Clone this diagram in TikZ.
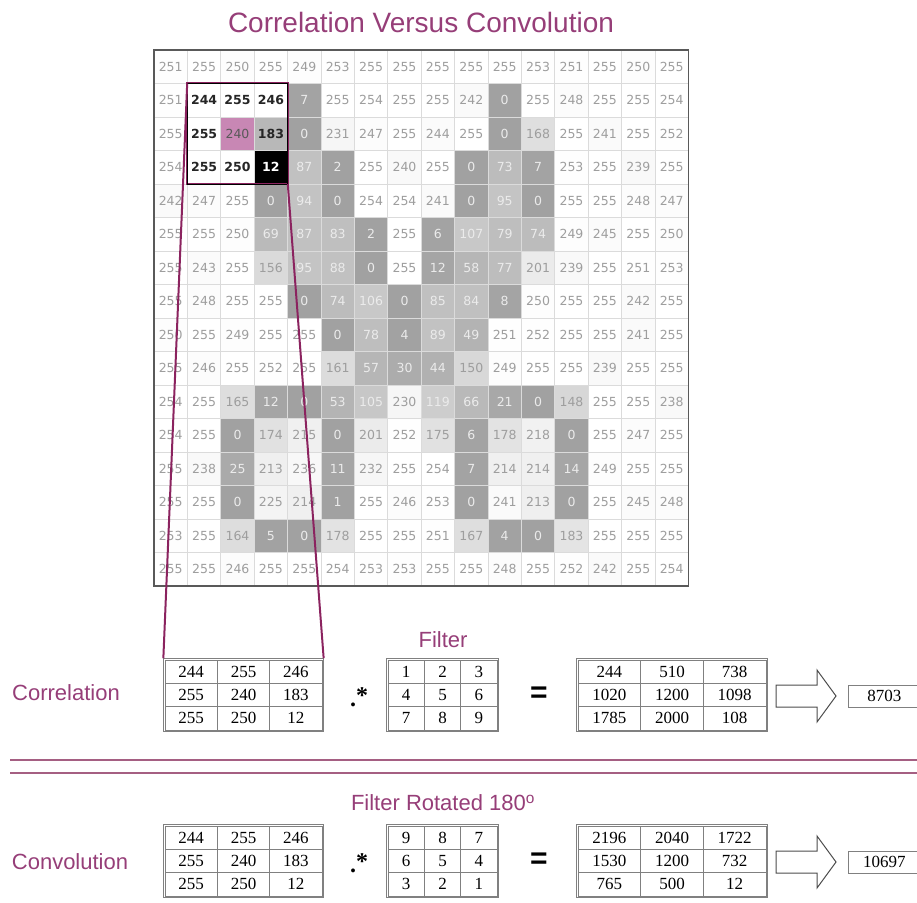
\documentclass[tikz,border=0pt]{standalone}
\usepackage{fontspec}
\setmainfont{Liberation Serif}
\newfontfamily\gridfont{DejaVu Sans}
\newfontfamily\labfont{Liberation Sans}
\usetikzlibrary{matrix}
\definecolor{plum}{RGB}{139,35,95}
\definecolor{labtext}{RGB}{150,62,120}
\definecolor{rulecol}{RGB}{165,95,130}
\definecolor{hilite}{RGB}{200,135,180}
\tikzset{
  gcell/.style={inner sep=0pt, minimum width=33.4pt, minimum height=33.5pt, font=\gridfont\fontsize{12.5}{13}\selectfont},
  gline/.style={black!14, line width=0.6pt},
  mcell/.style={draw=black!50, line width=0.8pt, minimum height=23.3pt, inner sep=0pt, font=\fontsize{17}{17}\selectfont},
  mat/.style={matrix of nodes, nodes={mcell}, column sep=-0.8pt, row sep=-0.8pt, draw=black!50, line width=1pt, inner sep=0.8pt},
  lab/.style={text=labtext, font=\labfont\fontsize{22}{24}\selectfont},
}
\begin{document}
\begin{tikzpicture}[x=1pt, y=-1pt]
  \useasboundingbox (0,0) rectangle (917,902);
  % title
  \node[text=labtext, font=\labfont\fontsize{28}{30}\selectfont] (title) at (421,22) {Correlation Versus Convolution};
  % image grid
  \foreach \rowvals [count=\rr from 0] in {
    {251,255,250,255,249,253,255,255,255,255,255,253,251,255,250,255},
    {251,244,255,246,7,255,254,255,255,242,0,255,248,255,255,254},
    {255,255,240,183,0,231,247,255,244,255,0,168,255,241,255,252},
    {254,255,250,12,87,2,255,240,255,0,73,7,253,255,239,255},
    {242,247,255,0,94,0,254,254,241,0,95,0,255,255,248,247},
    {255,255,250,69,87,83,2,255,6,107,79,74,249,245,255,250},
    {255,243,255,156,95,88,0,255,12,58,77,201,239,255,251,253},
    {255,248,255,255,0,74,106,0,85,84,8,250,255,255,242,255},
    {250,255,249,255,255,0,78,4,89,49,251,252,255,255,241,255},
    {255,246,255,252,255,161,57,30,44,150,249,255,255,239,255,255},
    {254,255,165,12,0,53,105,230,119,66,21,0,148,255,255,238},
    {254,255,0,174,215,0,201,252,175,6,178,218,0,255,247,255},
    {255,238,25,213,236,11,232,255,254,7,214,214,14,249,255,255},
    {255,255,0,225,214,1,255,246,253,0,241,213,0,255,245,248},
    {253,255,164,5,0,178,255,255,251,167,4,0,183,255,255,255},
    {255,255,246,255,255,254,253,253,255,255,248,255,252,242,255,254}}{
    \foreach \v [count=\cc from 0] in \rowvals {
      \pgfmathsetmacro\shade{37*(1-\v/255)}
      \def\fcol{black!\shade}
      \def\wt{\mdseries}
      \ifnum\v<120 \def\tcol{black!8}\else\def\tcol{black!38}\fi
      \pgfmathtruncatemacro\inwin{and(and(\rr>0,\rr<4),and(\cc>0,\cc<4))}
      \ifnum\inwin=1
        \def\fcol{white}\def\tcol{black!85}\def\wt{\bfseries}
        \ifnum\v=240 \def\fcol{hilite}\def\tcol{black!65}\def\wt{\mdseries}\fi
        \ifnum\v=183 \def\fcol{black!28}\fi
        \ifnum\v=12 \def\fcol{black}\def\tcol{white}\fi
      \fi
      \node[gcell, fill=\fcol, text=\tcol] (c-\rr-\cc) at ({154+33.4*(\cc+0.5)}, {50+33.5*(\rr+0.5)}) {\wt\v};
    }
  }
  \foreach \k in {1,...,15} {
    \draw[gline] (c-0-\k.north west) -- (c-15-\k.south west);
    \draw[gline] (c-\k-0.north west) -- (c-\k-15.north east);
  }
  \draw[black!65, line width=1.5pt] (c-0-0.north west) rectangle (c-15-15.south east);
  % correlation row
  \node[lab] (corr) at (66,693) {Correlation};
  \node[lab] (filt) at (443,640) {Filter};
  \matrix (patchA) [mat, nodes={minimum width=52.3pt}] at (243.5,695) {244 & 255 & 246\\ 255 & 240 & 183\\ 255 & 250 & 12\\};
  \node[font=\fontsize{24}{24}\selectfont\bfseries] (dotA) at (359,697) {.\raisebox{3pt}{*}};
  \matrix (filtA) [mat, nodes={minimum width=36.3pt}] at (442.5,695) {1 & 2 & 3\\ 4 & 5 & 6\\ 7 & 8 & 9\\};
  \node[font=\labfont\bfseries\fontsize{30}{30}\selectfont] (eqA) at (539,695) {=};
  \matrix (prodA) [mat, nodes={minimum width=62.7pt}] at (672,695) {244 & 510 & 738\\ 1020 & 1200 & 1098\\ 1785 & 2000 & 108\\};
  \draw[black!70, line width=1pt] (776,685) -- (817,685) -- (817,670) -- (836,696) -- (817,722) -- (817,707) -- (776,707) -- cycle;
  \node[draw=black!50, line width=0.8pt, minimum width=72pt, minimum height=22pt, anchor=west, font=\fontsize{17}{17}\selectfont] (sumA) at (848,696) {8703};
  % window onto the image
  \draw[plum, line width=2pt] (c-1-1.north west) rectangle (c-3-3.south east);
  \draw[black, line width=0.7pt] (c-1-1.north west) rectangle (c-3-3.south east);
  \draw[plum, line width=2pt] (c-1-1.north west) -- (patchA.north west);
  \draw[plum, line width=2pt] (c-3-3.south east) -- (patchA.north east);
  % separator
  \draw[rulecol, line width=1.3pt] (10,760) -- (917,760);
  \draw[rulecol, line width=1.3pt] (10,773) -- (917,773);
  % convolution row
  \node[lab] (conv) at (70,862) {Convolution};
  \node[lab] (filtrot) at (443,803) {Filter Rotated 180\textsuperscript{o}};
  \matrix (patchB) [mat, nodes={minimum width=52.3pt}] at (243.5,861) {244 & 255 & 246\\ 255 & 240 & 183\\ 255 & 250 & 12\\};
  \node[font=\fontsize{24}{24}\selectfont\bfseries] (dotB) at (359,863) {.\raisebox{3pt}{*}};
  \matrix (filtB) [mat, nodes={minimum width=36.3pt}] at (442.5,861) {9 & 8 & 7\\ 6 & 5 & 4\\ 3 & 2 & 1\\};
  \node[font=\labfont\bfseries\fontsize{30}{30}\selectfont] (eqB) at (539,861) {=};
  \matrix (prodB) [mat, nodes={minimum width=62.7pt}] at (672,861) {2196 & 2040 & 1722\\ 1530 & 1200 & 732\\ 765 & 500 & 12\\};
  \draw[black!70, line width=1pt] (776,851) -- (817,851) -- (817,836) -- (836,862) -- (817,888) -- (817,873) -- (776,873) -- cycle;
  \node[draw=black!50, line width=0.8pt, minimum width=72pt, minimum height=22pt, anchor=west, font=\fontsize{17}{17}\selectfont] (sumB) at (848,862) {10697};
\end{tikzpicture}
\end{document}
